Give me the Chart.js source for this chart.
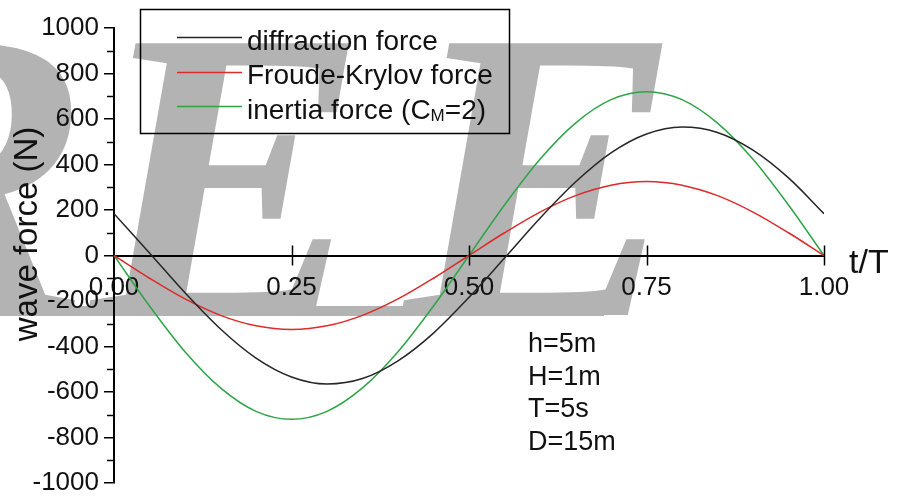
<!DOCTYPE html>
<html>
<head>
<meta charset="utf-8">
<script src="https://cdn.jsdelivr.net/npm/chart.js@4.4.0/dist/chart.umd.min.js"></script>
<style>
  html, body { margin: 0; padding: 0; background: #fff; overflow: hidden; }
  #wrap { width: 899px; height: 501px; }
</style>
</head>
<body>
<div id="wrap"><canvas id="c" width="899" height="501"></canvas></div>
<script>
// Time axis (t/T) samples
const tValues = [0, 0.05, 0.1, 0.15, 0.2, 0.25, 0.3, 0.35, 0.4, 0.45, 0.5,
                 0.55, 0.6, 0.65, 0.7, 0.75, 0.8, 0.85, 0.9, 0.95, 1.0];

// Wave force series (N)
const diffraction = [184, 11, -164, -323, -451, -534, -565, -541, -463, -341, -184,
                     -11, 164, 323, 451, 534, 565, 541, 463, 341, 184];
const froudeKrylov = [0, -100, -191, -263, -309, -325, -309, -263, -191, -100, 0,
                      100, 191, 263, 309, 325, 309, 263, 191, 100, 0];
const inertia = [0, -222, -423, -582, -685, -720, -685, -582, -423, -222, 0,
                 222, 423, 582, 685, 720, 685, 582, 423, 222, 0];

// Series names ("_X" marks a subscript character)
const seriesNames = ['diffraction force', 'Froude-Krylov force', 'inertia force (C_M=2)'];
const seriesColors = ['#262626', '#dd2a2a', '#2ea448'];

// Axis ticks
const xTickValues = [0, 0.25, 0.5, 0.75, 1.0];
const xTickLabels = ['0.00', '0.25', '0.50', '0.75', '1.00'];
const yTickValues = [-1000, -800, -600, -400, -200, 0, 200, 400, 600, 800, 1000];
const yTickLabels = ['-1000', '-800', '-600', '-400', '-200', '0', '200', '400', '600', '800', '1000'];
const yMinorValues = [-900, -700, -500, -300, -100, 100, 300, 500, 700, 900];

// Case parameters
const paramLines = ['h=5m', 'H=1m', 'T=5s', 'D=15m'];

const SANS = '"Liberation Sans", Arial, sans-serif';

function toPoints(ys) {
  return tValues.map((t, i) => ({ x: t, y: ys[i] }));
}

// one big letter, left edge of its ink box at `left`
function bigGlyph(ctx, ch, left) {
  const m = ctx.measureText(ch);
  ctx.fillText(ch, left + m.actualBoundingBoxLeft, 315);
}

// Large grey lettering behind everything
const backdropText = {
  id: 'backdropText',
  beforeDraw(chart) {
    const ctx = chart.ctx;
    ctx.save();
    ctx.fillStyle = '#b3b3b3';
    ctx.font = 'italic bold 415px "Liberation Serif", "Times New Roman", serif';
    ctx.textBaseline = 'alphabetic';
    ctx.textAlign = 'left';
    ctx.fillText('RE', -186, 315);
    bigGlyph(ctx, 'E', 398);
    ctx.fillRect(0, 306, 604, 10);
    ctx.restore();
  }
};

// Minor y ticks, crossing x ticks, legend box and text notes
const decorations = {
  id: 'decorations',
  afterDraw(chart) {
    const ctx = chart.ctx;
    const xs = chart.scales.x, ys = chart.scales.y;
    const x0 = xs.getPixelForValue(0);
    const y0 = ys.getPixelForValue(0);
    ctx.save();
    ctx.strokeStyle = '#000';
    ctx.lineWidth = 1.5;

    // minor ticks on the force axis
    yMinorValues.forEach(v => {
      const py = Math.round(ys.getPixelForValue(v)) + 0.5;
      ctx.beginPath();
      ctx.moveTo(x0 - 7, py);
      ctx.lineTo(x0, py);
      ctx.stroke();
    });

    // ticks crossing the time axis
    xTickValues.forEach(v => {
      if (v === 0) return;
      const px = Math.round(xs.getPixelForValue(v)) + 0.5;
      ctx.beginPath();
      ctx.moveTo(px, y0 - 10);
      ctx.lineTo(px, y0 + 10);
      ctx.stroke();
    });

    // legend
    ctx.lineWidth = 1.5;
    ctx.strokeRect(140.5, 9.5, 369, 124);
    const rowLine = [37, 72, 106];
    const rowBase = [50, 84, 119];
    chart.data.datasets.forEach((ds, i) => {
      ctx.strokeStyle = ds.borderColor;
      ctx.lineWidth = 1.5;
      ctx.beginPath();
      ctx.moveTo(177, rowLine[i] + 0.5);
      ctx.lineTo(242, rowLine[i] + 0.5);
      ctx.stroke();

      ctx.fillStyle = '#111';
      ctx.textBaseline = 'alphabetic';
      ctx.textAlign = 'left';
      let x = 247;
      const parts = ds.label.split(/_(\w)/);
      parts.forEach((p, k) => {
        if (k % 2 === 1) {
          ctx.font = '17px ' + SANS;
          ctx.fillText(p, x, rowBase[i] + 2);
        } else {
          ctx.font = '28px ' + SANS;
          ctx.fillText(p, x, rowBase[i]);
        }
        x += ctx.measureText(p).width;
      });
    });

    // force axis title
    ctx.fillStyle = '#111';
    ctx.save();
    ctx.translate(28, 234);
    ctx.rotate(-Math.PI / 2);
    ctx.font = '33px ' + SANS;
    ctx.textAlign = 'center';
    ctx.textBaseline = 'middle';
    ctx.fillText('wave force (N)', 0, 0);
    ctx.restore();

    // time axis title
    ctx.font = '34px ' + SANS;
    ctx.textAlign = 'left';
    ctx.textBaseline = 'alphabetic';
    ctx.fillText('t/T', 849, 273);

    // parameters
    ctx.font = '27px ' + SANS;
    paramLines.forEach((s, i) => {
      ctx.fillText(s, 528, 352 + i * 32.5);
    });
    ctx.restore();
  }
};

new Chart(document.getElementById('c'), {
  type: 'line',
  data: {
    datasets: [
      { label: seriesNames[0], data: toPoints(diffraction), borderColor: seriesColors[0] },
      { label: seriesNames[1], data: toPoints(froudeKrylov), borderColor: seriesColors[1] },
      { label: seriesNames[2], data: toPoints(inertia), borderColor: seriesColors[2] }
    ]
  },
  options: {
    responsive: false,
    animation: false,
    layout: { padding: { left: 0, right: 75, top: 28, bottom: 14 } },
    plugins: { legend: { display: false }, tooltip: { enabled: false } },
    elements: {
      point: { radius: 0 },
      line: { borderWidth: 1.5, fill: false, cubicInterpolationMode: 'monotone' }
    },
    scales: {
      x: {
        type: 'linear',
        min: 0,
        max: 1,
        position: { y: 0 },
        afterFit(s) { s.height = 0; },
        afterBuildTicks(s) { s.ticks = xTickValues.map(v => ({ value: v })); },
        grid: { display: false, drawTicks: false },
        border: { display: true, color: '#000', width: 2 },
        ticks: {
          padding: 17,
          autoSkip: false,
          maxRotation: 0,
          color: '#111',
          font: { family: SANS, size: 26 },
          callback: (v, i) => xTickLabels[i]
        }
      },
      y: {
        type: 'linear',
        min: -1000,
        max: 1000,
        afterFit(s) { s.width = 114; },
        afterBuildTicks(s) { s.ticks = yTickValues.map(v => ({ value: v })); },
        grid: { drawOnChartArea: false, tickLength: 10, color: '#000', lineWidth: 1.5 },
        border: { display: true, color: '#000', width: 2 },
        ticks: {
          padding: 5,
          autoSkip: false,
          color: '#111',
          font: { family: SANS, size: 26, lineHeight: 1 },
          callback: (v, i) => yTickLabels[i]
        }
      }
    }
  },
  plugins: [backdropText, decorations]
});
</script>
</body>
</html>
